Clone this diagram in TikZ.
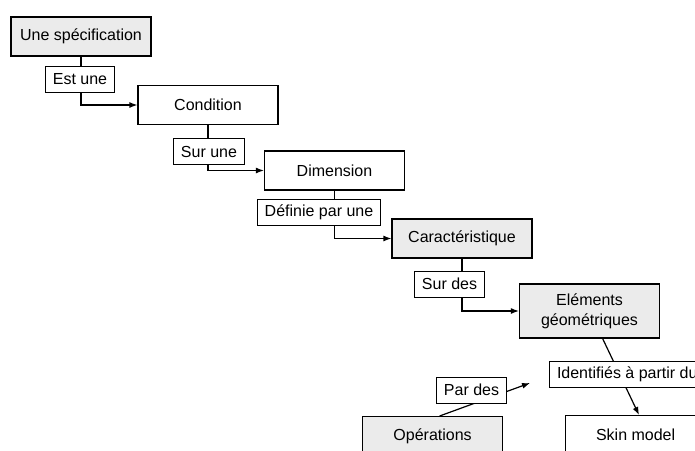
\documentclass[tikz,border=0pt]{standalone}
\usepackage{fontspec}
\setmainfont{Liberation Sans}
\usetikzlibrary{arrows.meta}
\definecolor{cgray}{RGB}{235,235,235}
\begin{document}
\begin{tikzpicture}[x=1pt,y=-1pt,
  font=\fontsize{16}{20}\selectfont,
  concept/.style={draw=black, line width=1.2pt, minimum width=140pt, minimum height=39pt, inner sep=0pt, align=center},
  gconcept/.style={concept, fill=cgray},
  linkbox/.style={draw=black, line width=1pt, fill=white, minimum height=26pt, inner xsep=7.5pt, inner ysep=0pt},
  conn/.style={line width=1.2pt},
  arr/.style={conn, -{Latex[length=8pt,width=6pt]}}]
\useasboundingbox (0,0) rectangle (695,450);
% concepts
\node[gconcept] (spec) at (81,36.5) {Une spécification};
\node[concept] (cond) at (208,105) {Condition};
\node[concept] (dim) at (334.5,170.5) {Dimension};
\node[gconcept] (carac) at (462,238.5) {Caractéristique};
\node[gconcept, minimum height=54pt] (elem) at (589.5,311) {Eléments\\géométriques};
\node[concept, anchor=north west] (skin) at (565,415) {Skin model};
\node[gconcept, anchor=north west] (ops) at (362,416) {Opérations};
% connectors
\draw[arr] (spec) |- (cond);
\draw[arr] (cond) |- (dim);
\draw[arr] (dim) |- (carac);
\draw[arr] (carac) |- (elem);
\coordinate (skinin) at (639,415);
\draw[arr] (elem) -- (skinin);
\coordinate (parend) at (530,383);
\draw[arr] ([xshift=7pt]ops.north) -- (parend);
% linking phrases
\node[linkbox] (estune) at (80,79.5) {Est une};
\node[linkbox] (surune) at (209,151.5) {Sur une};
\node[linkbox] (definie) at (319,212.5) {Définie par une};
\node[linkbox] (surdes) at (449.5,284) {Sur des};
\node[linkbox, anchor=west] (ident) at (549,374.5) {Identifiés à partir du};
\node[linkbox] (pardes) at (471.5,390) {Par des};
\end{tikzpicture}
\end{document}
